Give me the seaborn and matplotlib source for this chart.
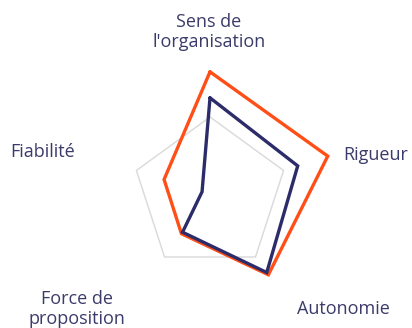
import numpy as np
import pandas as pd
import matplotlib
matplotlib.use("Agg")
import matplotlib.pyplot as plt
import seaborn as sns

# ── Data ──────────────────────────────────────────────────────────────────────
CATEGORIES = ["Sens de\nl'organisation", "Rigueur", "Autonomie",
              "Force de\nproposition", "Fiabilité"]
ORANGE_VALUES = [3.96, 4.0, 3.21, 1.57, 1.56]
NAVY_VALUES = [3.12, 2.98, 3.12, 1.51, 0.27]
GRID_LEVEL = 2.5
R_MAX = 4.2

# ── Style ─────────────────────────────────────────────────────────────────────
sns.set_style("white")
plt.rcParams["font.family"] = ["Open Sans", "DejaVu Sans"]
TEXT_COLOR = "#3b3b6b"
COLORS = {"orange": "#ff4f17", "navy": "#2b2c69"}

n = len(CATEGORIES)
angles = np.linspace(0, 2 * np.pi, n, endpoint=False)
closed = np.append(angles, 2 * np.pi)

rows = []
for name, vals in [("orange", ORANGE_VALUES), ("navy", NAVY_VALUES)]:
    for i, (t, v) in enumerate(zip(closed, vals + vals[:1])):
        rows.append({"series": name, "theta": t, "value": v, "order": i})
df = pd.DataFrame(rows)

fig = plt.figure(figsize=(4.12, 3.28), dpi=100)
ax = fig.add_axes([0.1942, 0.011, 0.631, 0.7927], projection="polar")
ax.set_theta_zero_location("N")
ax.set_theta_direction(-1)

# single grey pentagon
ax.plot(closed, [GRID_LEVEL] * (n + 1), color="#d9d9d9", lw=1.0, zorder=1)

sns.lineplot(data=df, x="theta", y="value", hue="series", palette=COLORS,
             hue_order=["orange", "navy"], sort=False, estimator=None,
             lw=2.4, legend=False, ax=ax, zorder=3)
for line in ax.lines:
    line.set_solid_joinstyle("miter")

ax.set_ylim(0, R_MAX)
ax.set_xticks([])
ax.set_yticks([])
ax.grid(False)
ax.spines["polar"].set_visible(False)
ax.set_xlabel("")
ax.set_ylabel("")
ax.patch.set_alpha(0)

# category labels
label_pos = [(0.507, 0.902), (0.913, 0.527), (0.833, 0.058),
             (0.187, 0.058), (0.104, 0.537)]
for text, (x, y) in zip(CATEGORIES, label_pos):
    fig.text(x, y, text, ha="center", va="center", fontsize=13,
             color=TEXT_COLOR, linespacing=1.15)

fig.savefig("out.png", dpi=100)
